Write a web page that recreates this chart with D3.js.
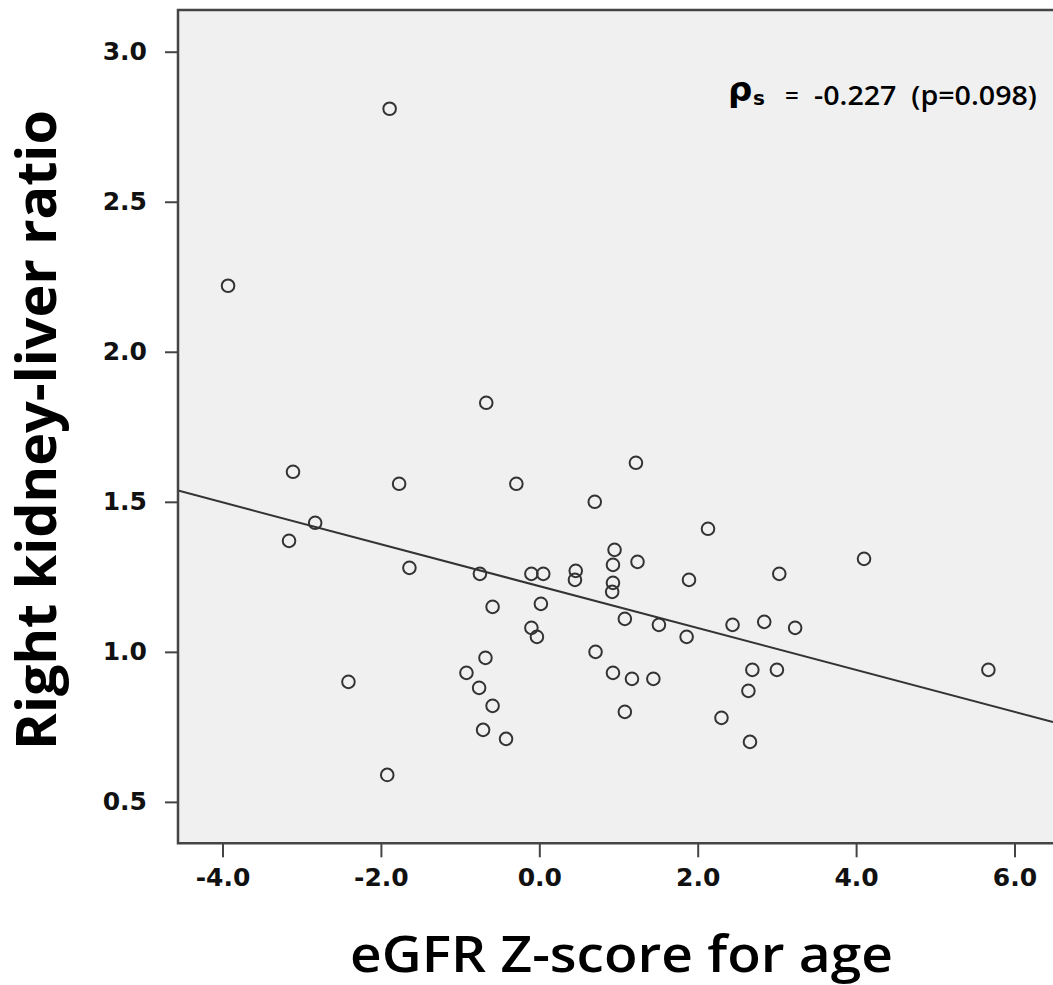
<!DOCTYPE html>
<html>
<head>
<meta charset="utf-8">
<script src="https://cdn.jsdelivr.net/npm/d3@7"></script>
<style>
  html, body { margin: 0; padding: 0; background: #fff; }
  svg { display: block; }
</style>
</head>
<body>
<svg id="chart" width="1053" height="985"></svg>
<script>
// eGFR Z-score for age (x) vs right kidney-liver ratio (y)
const egfrZ = [
  -3.11, -1.77, -0.29, -2.83, -3.16, -1.64, -0.75, -0.10, 0.05, -0.59,
  0.02, -0.10, -0.03, -0.68, -0.92, -0.76, -0.59, -0.71, -0.42, -2.41,
  -1.92, 1.22, 0.70, 2.13, 0.95, 0.93, 1.24, 0.46, 0.45, 0.93,
  0.92, 1.89, 3.03, 1.08, 1.51, 1.86, 2.44, 2.84, 3.23, 0.71,
  0.93, 1.17, 1.44, 2.69, 3.00, 2.64, 1.08, 2.30, 2.66, -1.89,
  -3.93, -0.67, 4.10, 5.67
];
const kidneyLiver = [
  1.60, 1.56, 1.56, 1.43, 1.37, 1.28, 1.26, 1.26, 1.26, 1.15,
  1.16, 1.08, 1.05, 0.98, 0.93, 0.88, 0.82, 0.74, 0.71, 0.90,
  0.59, 1.63, 1.50, 1.41, 1.34, 1.29, 1.30, 1.27, 1.24, 1.23,
  1.20, 1.24, 1.26, 1.11, 1.09, 1.05, 1.09, 1.10, 1.08, 1.00,
  0.93, 0.91, 0.91, 0.94, 0.94, 0.87, 0.80, 0.78, 0.70, 2.81,
  2.22, 1.83, 1.31, 0.94
];
const xTicks = [-4, -2, 0, 2, 4, 6];
const yTicks = [0.5, 1.0, 1.5, 2.0, 2.5, 3.0];
const xDomain = [-4.562, 6.486];
const yDomain = [0.362, 3.139];
// linear fit line
const fitIntercept = 1.219;
const fitSlope = -0.0698;
const annotation = { rho: 'ρ', sub: 's', text: '-0.227 (p=0.098)' };

const points = egfrZ.map((x, i) => ({ x, y: kidneyLiver[i] }));

const plot = { left: 178, right: 1053, top: 10, bottom: 843.3 };
const svg = d3.select('#chart');

const x = d3.scaleLinear().domain(xDomain).range([plot.left, plot.right]);
const y = d3.scaleLinear().domain(yDomain).range([plot.bottom, plot.top]);

// Plot background
svg.append('rect')
  .attr('x', plot.left)
  .attr('y', plot.top)
  .attr('width', plot.right - plot.left + 2)
  .attr('height', plot.bottom - plot.top)
  .attr('fill', '#f0f0f0');

svg.append('clipPath').attr('id', 'plot-clip')
  .append('rect')
  .attr('x', plot.left)
  .attr('y', plot.top)
  .attr('width', plot.right - plot.left + 2)
  .attr('height', plot.bottom - plot.top);

// Fit line
svg.append('line')
  .attr('clip-path', 'url(#plot-clip)')
  .attr('x1', x(xDomain[0]))
  .attr('y1', y(fitIntercept + fitSlope * xDomain[0]))
  .attr('x2', x(xDomain[1]))
  .attr('y2', y(fitIntercept + fitSlope * xDomain[1]))
  .attr('stroke', '#333')
  .attr('stroke-width', 2);

// Points
svg.append('g')
  .selectAll('circle')
  .data(points)
  .join('circle')
  .attr('cx', (d) => x(d.x))
  .attr('cy', (d) => y(d.y))
  .attr('r', 6.3)
  .attr('fill', 'none')
  .attr('stroke', '#333')
  .attr('stroke-width', 2);

// Axes (plain hyphen for negatives, as in the original)
const fmt = (d) => d.toFixed(1);
const tickFont = (g) => g.selectAll('text')
  .attr('font-family', '"DejaVu Sans", sans-serif')
  .attr('font-weight', 'bold')
  .attr('font-size', 25)
  .attr('fill', '#111');

const xAxis = svg.append('g')
  .attr('transform', `translate(0,${plot.bottom})`)
  .call(d3.axisBottom(x).tickValues(xTicks).tickFormat(fmt).tickSize(14).tickPadding(11));
xAxis.select('.domain').remove();
xAxis.selectAll('line').attr('stroke', '#444').attr('stroke-width', 2);
tickFont(xAxis);

const yAxis = svg.append('g')
  .attr('transform', `translate(${plot.left},0)`)
  .call(d3.axisLeft(y).tickValues(yTicks).tickFormat(fmt).tickSize(13).tickPadding(18));
yAxis.select('.domain').remove();
yAxis.selectAll('line').attr('stroke', '#444').attr('stroke-width', 2);
tickFont(yAxis);

// Frame (left, top, bottom)
svg.append('path')
  .attr('d', `M${plot.right + 2},${plot.top}H${plot.left}V${plot.bottom}H${plot.right + 2}`)
  .attr('fill', 'none')
  .attr('stroke', '#444')
  .attr('stroke-width', 2.5);

// Horizontal squeeze factor so a text fills a target width
function fitWidth(sel, target) {
  const w = sel.node().getComputedTextLength();
  return target / w;
}

// X title
const xTitle = svg.append('text')
  .attr('text-anchor', 'middle')
  .attr('font-family', '"Open Sans", sans-serif')
  .attr('font-weight', 600)
  .attr('font-size', 50)
  .attr('fill', '#000')
  .text('eGFR Z-score for age');
const sx = fitWidth(xTitle, 543);
xTitle.attr('transform', `translate(621.5,972) scale(${sx},1)`);

// Y title
const yTitle = svg.append('text')
  .attr('text-anchor', 'middle')
  .attr('font-family', '"Open Sans", sans-serif')
  .attr('font-weight', 'bold')
  .attr('font-size', 56)
  .attr('fill', '#000')
  .text('Right kidney-liver ratio');
const sy = fitWidth(yTitle, 640);
yTitle.attr('transform', `translate(56,430) rotate(-90) scale(${sy},1)`);

// Correlation annotation
svg.append('text')
  .attr('x', 728)
  .attr('y', 101)
  .attr('font-family', '"DejaVu Sans", sans-serif')
  .attr('font-weight', 'bold')
  .attr('font-size', 34)
  .attr('fill', '#000')
  .text(annotation.rho);
svg.append('text')
  .attr('x', 753)
  .attr('y', 105)
  .attr('font-family', '"DejaVu Sans", sans-serif')
  .attr('font-weight', 'bold')
  .attr('font-size', 20)
  .attr('fill', '#000')
  .text(annotation.sub);
svg.append('text')
  .attr('x', 785)
  .attr('y', 104)
  .attr('font-family', '"Open Sans", sans-serif')
  .attr('font-weight', 600)
  .attr('font-size', 24)
  .attr('fill', '#000')
  .text('=');
const ann = svg.append('text')
  .attr('font-family', '"Open Sans", sans-serif')
  .attr('font-weight', 600)
  .attr('font-size', 27)
  .attr('fill', '#000')
  .attr('xml:space', 'preserve')
  .text(annotation.text.replace(' ', '  '));
const sa = fitWidth(ann, 223);
ann.attr('transform', `translate(814,105) scale(${sa},1)`);
</script>
</body>
</html>
